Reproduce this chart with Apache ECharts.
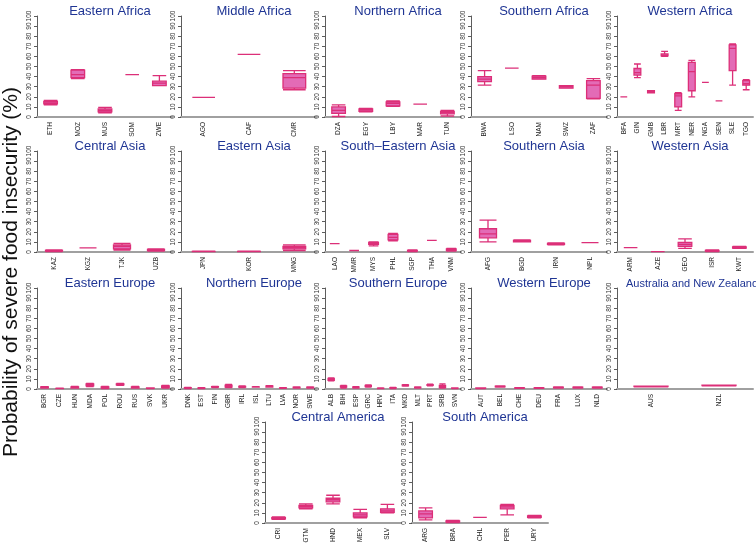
<!DOCTYPE html>
<html>
<head>
<meta charset="utf-8">
<script src="https://cdn.jsdelivr.net/npm/echarts@6/dist/echarts.min.js"></script>
<style>html,body{margin:0;padding:0;background:#fff}#c{width:756px;height:546px}</style>
</head>
<body>
<div id="c"></div>
<script>
// ---- data: [min, Q1, median, Q3, max] ----
const yTicks = [0, 10, 20, 30, 40, 50, 60, 70, 80, 90, 100];

const eAfricaCats = ['ETH', 'MOZ', 'MUS', 'SOM', 'ZWE'];
const eAfricaVals = [[12, 13, 14, 15.5, 16.5], [38, 39, 42, 46.5, 47], [4, 5, 6.5, 8, 9.5], [42, 42, 42, 42, 42], [31, 31, 33.5, 35.5, 41]];

const mAfricaCats = ['AGO', 'CAF', 'CMR'];
const mAfricaVals = [[19.5, 19.5, 19.5, 19.5, 19.5], [62, 62, 62, 62, 62], [27, 28.5, 39, 43, 46]];

const nAfricaCats = ['DZA', 'EGY', 'LBY', 'MAR', 'TUN'];
const nAfricaVals = [[0.5, 3.5, 6.5, 10, 12], [5, 5.5, 7, 8, 8.5], [10.5, 11, 13.5, 15, 16], [12.8, 12.8, 12.8, 12.8, 12.8], [1, 3, 4.5, 5.5, 6.5]];

const sAfricaCats = ['BWA', 'LSO', 'NAM', 'SWZ', 'ZAF'];
const sAfricaVals = [[31.5, 35, 37.5, 40, 46], [48.3, 48.3, 48.3, 48.3, 48.3], [37.5, 37.5, 39, 40.5, 41], [28.5, 28.5, 30, 31, 31], [18, 18.5, 31.5, 36, 38]];

const wAfricaCats = ['BFA', 'GIN', 'GMB', 'LBR', 'MRT', 'NER', 'NGA', 'SEN', 'SLE', 'TGO'];
const wAfricaVals = [[20, 20, 20, 20, 20], [39, 41.5, 44, 48, 52.5], [24, 24, 25, 26, 26], [60, 60.5, 61, 62.5, 65], [6.5, 10, 21, 23, 24], [20, 26, 45, 54, 56], [34.3, 34.3, 34.3, 34.3, 34.3], [16, 16, 16, 16, 16], [31.5, 46, 68, 71.5, 72.5], [27, 31.5, 33, 36, 37]];

const cAsiaCats = ['KAZ', 'KGZ', 'TJK', 'UZB'];
const cAsiaVals = [[0.5, 0.8, 1, 1.5, 2], [4, 4, 4, 4, 4], [2, 3, 5.5, 7, 8.5], [1, 1.5, 2, 2.5, 3]];

const eAsiaCats = ['JPN', 'KOR', 'MNG'];
const eAsiaVals = [[0.3, 0.4, 0.5, 0.6, 0.8], [0.3, 0.4, 0.5, 0.6, 0.8], [1.5, 3, 4.5, 5.5, 7]];

const seAsiaCats = ['LAO', 'MMR', 'MYS', 'PHL', 'SGP', 'THA', 'VNM'];
const seAsiaVals = [[8.3, 8.3, 8.3, 8.3, 8.3], [1.5, 1.5, 1.5, 1.5, 1.5], [6, 7.5, 8.5, 9.5, 10], [11, 12, 14.5, 17.5, 18.5], [0.5, 0.8, 1, 1.5, 2], [11.5, 11.5, 11.5, 11.5, 11.5], [1, 1.5, 2, 3, 3.5]];

const sAsiaCats = ['AFG', 'BGD', 'IRN', 'NPL'];
const sAsiaVals = [[10, 14, 18, 23, 31.5], [10, 10, 11, 11.5, 12], [7, 7.5, 8, 8.5, 9], [9.3, 9.3, 9.3, 9.3, 9.3]];

const wAsiaCats = ['ARM', 'AZE', 'GEO', 'ISR', 'KWT'];
const wAsiaVals = [[4.3, 4.3, 4.3, 4.3, 4.3], [0.3, 0.3, 0.3, 0.3, 0.3], [3.5, 5.5, 7.5, 9.5, 13], [0.5, 0.8, 1.2, 1.6, 2], [3.5, 3.8, 4.5, 5, 5.5]];

const eEuropeCats = ['BGR', 'CZE', 'HUN', 'MDA', 'POL', 'ROU', 'RUS', 'SVK', 'UKR'];
const eEuropeVals = [[1, 1.2, 1.5, 2, 2.3], [0.3, 0.4, 0.5, 0.7, 0.9], [0.8, 1, 1.5, 2, 2.5], [2.5, 3, 4, 5, 5.5], [0.5, 1, 1.5, 2, 2.5], [3.5, 4, 4.5, 5, 5.5], [0.8, 1, 1.5, 2, 2.5], [0.4, 0.6, 0.8, 1, 1.2], [1, 1.5, 2.5, 3, 3.5]];

const nEuropeCats = ['DNK', 'EST', 'FIN', 'GBR', 'IRL', 'ISL', 'LTU', 'LVA', 'NOR', 'SWE'];
const nEuropeVals = [[0.5, 0.8, 1, 1.3, 1.5], [0.5, 0.7, 0.9, 1.1, 1.3], [1.5, 1.8, 2, 2.3, 2.5], [1.5, 2, 3, 3.8, 4.5], [1.5, 1.8, 2.2, 2.5, 3], [1.8, 1.9, 2, 2.2, 2.3], [1.8, 2, 2.5, 3, 3.3], [0.6, 0.8, 1, 1.2, 1.4], [1, 1.2, 1.5, 1.8, 2], [1, 1.2, 1.5, 1.8, 2]];

const sEuropeCats = ['ALB', 'BIH', 'ESP', 'GRC', 'HRV', 'ITA', 'MKD', 'MLT', 'PRT', 'SRB', 'SVN'];
const sEuropeVals = [[8, 8.5, 9.5, 10.5, 11], [1, 1.8, 2.5, 3, 3.5], [1, 1.2, 1.5, 2, 2.3], [2, 2.5, 3, 3.5, 4], [0.4, 0.5, 0.7, 0.9, 1], [0.5, 0.8, 1, 1.3, 1.6], [2.8, 3.2, 3.6, 4, 4.3], [0.8, 1.2, 1.5, 1.8, 2.2], [3.2, 3.6, 4, 4.3, 4.8], [0.8, 1.5, 2.8, 3.5, 5], [0.5, 0.6, 0.8, 1, 1.2]];

const wEuropeCats = ['AUT', 'BEL', 'CHE', 'DEU', 'FRA', 'LUX', 'NLD'];
const wEuropeVals = [[0.5, 0.6, 0.8, 1, 1.1], [2, 2.2, 2.5, 2.8, 3], [0.6, 0.8, 1, 1.2, 1.4], [0.6, 0.8, 1, 1.2, 1.4], [1, 1.2, 1.5, 1.8, 2], [1, 1.2, 1.5, 1.8, 2], [1, 1.2, 1.5, 1.8, 2]];

const anzCats = ['AUS', 'NZL'];
const anzVals = [[2.2, 2.3, 2.5, 2.7, 2.8], [3.2, 3.3, 3.5, 3.7, 3.8]];

const cAmericaCats = ['CRI', 'GTM', 'HND', 'MEX', 'SLV'];
const cAmericaVals = [[3.5, 4, 4.5, 5.2, 6], [14, 15, 16.5, 17.5, 19], [19, 21, 23, 24.5, 27.5], [5, 6, 8, 10, 13.5], [10, 10.5, 12, 14, 18.5]];

const sAmericaCats = ['ARG', 'BRA', 'CHL', 'PER', 'URY'];
const sAmericaVals = [[3, 5, 9, 12, 15], [0.5, 1, 1.5, 2, 2.5], [5.5, 5.5, 5.5, 5.5, 5.5], [8, 14, 16, 17.5, 18.5], [5, 5.5, 6.5, 7, 7.5]];

// ---- layout ----
const colLeft = [37, 181, 325, 471, 617];
const rowTop = [16, 151, 288, 422];
const W = 136, H = 101;

const panels = [
  ['Eastern Africa', eAfricaCats, eAfricaVals, colLeft[0], rowTop[0]],
  ['Middle Africa', mAfricaCats, mAfricaVals, colLeft[1], rowTop[0]],
  ['Northern Africa', nAfricaCats, nAfricaVals, colLeft[2], rowTop[0]],
  ['Southern Africa', sAfricaCats, sAfricaVals, colLeft[3], rowTop[0]],
  ['Western Africa', wAfricaCats, wAfricaVals, colLeft[4], rowTop[0]],
  ['Central Asia', cAsiaCats, cAsiaVals, colLeft[0], rowTop[1]],
  ['Eastern Asia', eAsiaCats, eAsiaVals, colLeft[1], rowTop[1]],
  ['South\u2013Eastern Asia', seAsiaCats, seAsiaVals, colLeft[2], rowTop[1]],
  ['Southern Asia', sAsiaCats, sAsiaVals, colLeft[3], rowTop[1]],
  ['Western Asia', wAsiaCats, wAsiaVals, colLeft[4], rowTop[1]],
  ['Eastern Europe', eEuropeCats, eEuropeVals, colLeft[0], rowTop[2]],
  ['Northern Europe', nEuropeCats, nEuropeVals, colLeft[1], rowTop[2]],
  ['Southern Europe', sEuropeCats, sEuropeVals, colLeft[2], rowTop[2]],
  ['Western Europe', wEuropeCats, wEuropeVals, colLeft[3], rowTop[2]],
  ['Australia and New Zealand', anzCats, anzVals, colLeft[4], rowTop[2]],
  ['Central America', cAmericaCats, cAmericaVals, 265, rowTop[3]],
  ['South America', sAmericaCats, sAmericaVals, 412, rowTop[3]]
];

const FONT = "'Liberation Sans', Arial, Helvetica, sans-serif";
const grid = [], xAxis = [], yAxis = [], series = [], title = [];
panels.forEach((p, i) => {
  const [name, cats, vals, left, top] = p;
  const long = name.length > 20;
  grid.push({ left: left, top: top, width: W, height: H });
  title.push({
    text: name, left: left + W / 2 + (long ? 2 : 0), top: top - 16 + (long ? 1 : 0), textAlign: 'center',
    textStyle: { fontFamily: FONT, fontSize: long ? 11 : 13, fontWeight: 'normal', color: '#1f3594' }
  });
  xAxis.push({
    gridIndex: i, type: 'category', data: cats,
    axisLine: { show: true, lineStyle: { color: '#a0a0a0', width: 2 } },
    axisTick: { show: false },
    axisLabel: { interval: 0, rotate: 90, fontSize: 6.5, fontFamily: FONT, color: '#222', margin: 5 },
    splitLine: { show: false }
  });
  yAxis.push({
    gridIndex: i, type: 'value', min: yTicks[0], max: yTicks[yTicks.length - 1], interval: 10,
    axisLine: { show: true, lineStyle: { color: '#333', width: 0.8 } },
    axisTick: { show: true, length: 3, lineStyle: { color: '#333', width: 0.8 } },
    axisLabel: { rotate: 90, fontSize: 6.5, fontFamily: FONT, color: '#333', margin: 4 },
    splitLine: { show: false }
  });
  series.push({
    type: 'boxplot', xAxisIndex: i, yAxisIndex: i, data: vals,
    boxWidth: ['50%', '50%'],
    itemStyle: { color: '#e36bb6', borderColor: '#dc2f78', borderWidth: 1.3 },
    z: 3
  });
});

const chart = echarts.init(document.getElementById('c'), null, { renderer: 'canvas' });
chart.setOption({
  animation: false,
  backgroundColor: '#fff',
  title: title, grid: grid, xAxis: xAxis, yAxis: yAxis, series: series,
  graphic: [{
    type: 'text', x: 11, y: 272, rotation: Math.PI / 2,
    style: {
      text: 'Probability of severe food insecurity (%)', fill: '#111',
      font: "21px 'Liberation Sans', Arial, sans-serif", textAlign: 'center', textVerticalAlign: 'middle'
    }
  }]
});
</script>
</body>
</html>
